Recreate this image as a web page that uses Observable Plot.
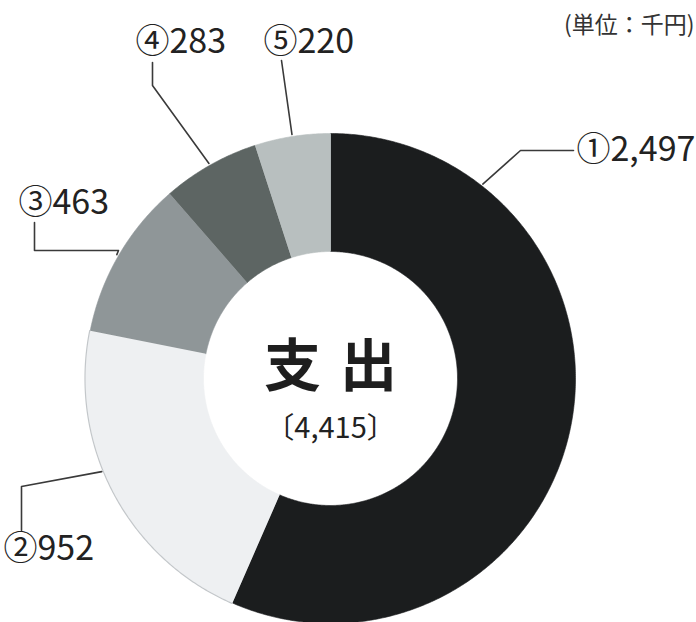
<!DOCTYPE html>
<html><head><meta charset="utf-8">
<script src="https://cdn.jsdelivr.net/npm/d3@7"></script>
<script src="https://cdn.jsdelivr.net/npm/@observablehq/plot@0.6"></script>
<style>
body{margin:0;background:#fff;}
#chart{width:696px;height:622px;overflow:hidden;}
.ct text{letter-spacing:19px;}
</style></head><body><div id="chart"></div>
<script>
// ---- data ----
const categories = ["①", "②", "③", "④", "⑤"];
const values = [2497, 952, 463, 283, 220];
const valueLabels = ["2,497", "952", "463", "283", "220"];
const centerTitle = "支出";
const totalLabel = "〔4,415〕";
const unitLabel = "(単位：千円)";
const colors = ["#1b1d1e", "#eef0f2", "#8f9698", "#5d6563", "#b8bfbf"];

// ---- layout (pixels) ----
const W = 696, H = 622, CX = 330, CY = 378, RIN = 127, ROUT = 245;
const toX = px => px - CX, toY = py => CY - py;
const labelLayout = [
  {t: 0.187, path: [[520, 150], [573, 150]], text: [576, 150]},
  {t: 0.57,  path: [[21, 486], [21, 530]], text: [3, 549]},
  {t: 0.5,   path: [[118, 250], [34, 250], [34, 222]], text: [18, 203]},
  {t: 0.5,   path: [[152, 85], [152, 62]], text: [135, 42]},
  {t: 0.5,   path: [[281, 60]], text: [263, 42]}
];

const arcs = d3.pie().sort(null).value(d => d)(values);
const step = Math.PI / 360;
const slicePts = [];
arcs.forEach((a, i) => {
  const n = Math.max(2, Math.ceil((a.endAngle - a.startAngle) / step));
  for (let k = 0; k <= n; k++) {
    const ang = a.startAngle + (a.endAngle - a.startAngle) * k / n;
    slicePts.push({cat: categories[i], x: ROUT * Math.sin(ang), y: ROUT * Math.cos(ang)});
  }
  for (let k = n; k >= 0; k--) {
    const ang = a.startAngle + (a.endAngle - a.startAngle) * k / n;
    slicePts.push({cat: categories[i], x: RIN * Math.sin(ang), y: RIN * Math.cos(ang)});
  }
});
// outer edge of the light slice
const edgePts = [];
{
  const a = arcs[1];
  const n = Math.ceil((a.endAngle - a.startAngle) / step);
  for (let k = 0; k <= n; k++) {
    const ang = a.startAngle + (a.endAngle - a.startAngle) * k / n;
    edgePts.push({x: (ROUT + 0.5) * Math.sin(ang), y: (ROUT + 0.5) * Math.cos(ang)});
  }
}
// leader lines
const leaderPts = [];
const labels = [];
arcs.forEach((a, i) => {
  const L = labelLayout[i];
  const ang = a.startAngle + (a.endAngle - a.startAngle) * L.t;
  leaderPts.push({cat: categories[i], x: (ROUT + 2) * Math.sin(ang), y: (ROUT + 2) * Math.cos(ang)});
  L.path.forEach(p => leaderPts.push({cat: categories[i], x: toX(p[0]), y: toY(p[1])}));
  labels.push({text: categories[i] + valueLabels[i], x: toX(L.text[0]), y: toY(L.text[1])});
});

const font = "Noto Sans CJK JP";
const chart = Plot.plot({
  width: W, height: H,
  margin: 0, inset: 0,
  style: {fontFamily: font, background: "#fff"},
  x: {domain: [toX(0), toX(W)], axis: null},
  y: {domain: [toY(H), toY(0)], axis: null},
  color: {domain: categories, range: colors},
  marks: [
    Plot.line(slicePts, {x: "x", y: "y", z: "cat", fill: "cat", stroke: "cat", strokeWidth: 0.6, curve: "linear"}),
    Plot.line(edgePts, {x: "x", y: "y", stroke: "#c3c7ca", strokeWidth: 1.2}),
    Plot.line(leaderPts, {x: "x", y: "y", z: "cat", stroke: "#3a3a3a", strokeWidth: 1.6}),
    Plot.text(labels, {x: "x", y: "y", text: "text", textAnchor: "start", lineAnchor: "middle", fontSize: 34, fill: "#222"}),
    Plot.text([centerTitle], {x: 0, y: toY(367), text: d => d, textAnchor: "middle", lineAnchor: "middle", fontSize: 57, fontWeight: "bold", fill: "#1e1e1e", dx: 9.5, className: "ct"}),
    Plot.text([totalLabel], {x: 0, y: toY(428), text: d => d, textAnchor: "middle", lineAnchor: "middle", fontSize: 29, fill: "#222"}),
    Plot.text([unitLabel], {x: toX(694), y: toY(25), text: d => d, textAnchor: "end", lineAnchor: "middle", fontSize: 23, fill: "#333"})
  ]
});
document.getElementById("chart").appendChild(chart);
</script></body></html>
